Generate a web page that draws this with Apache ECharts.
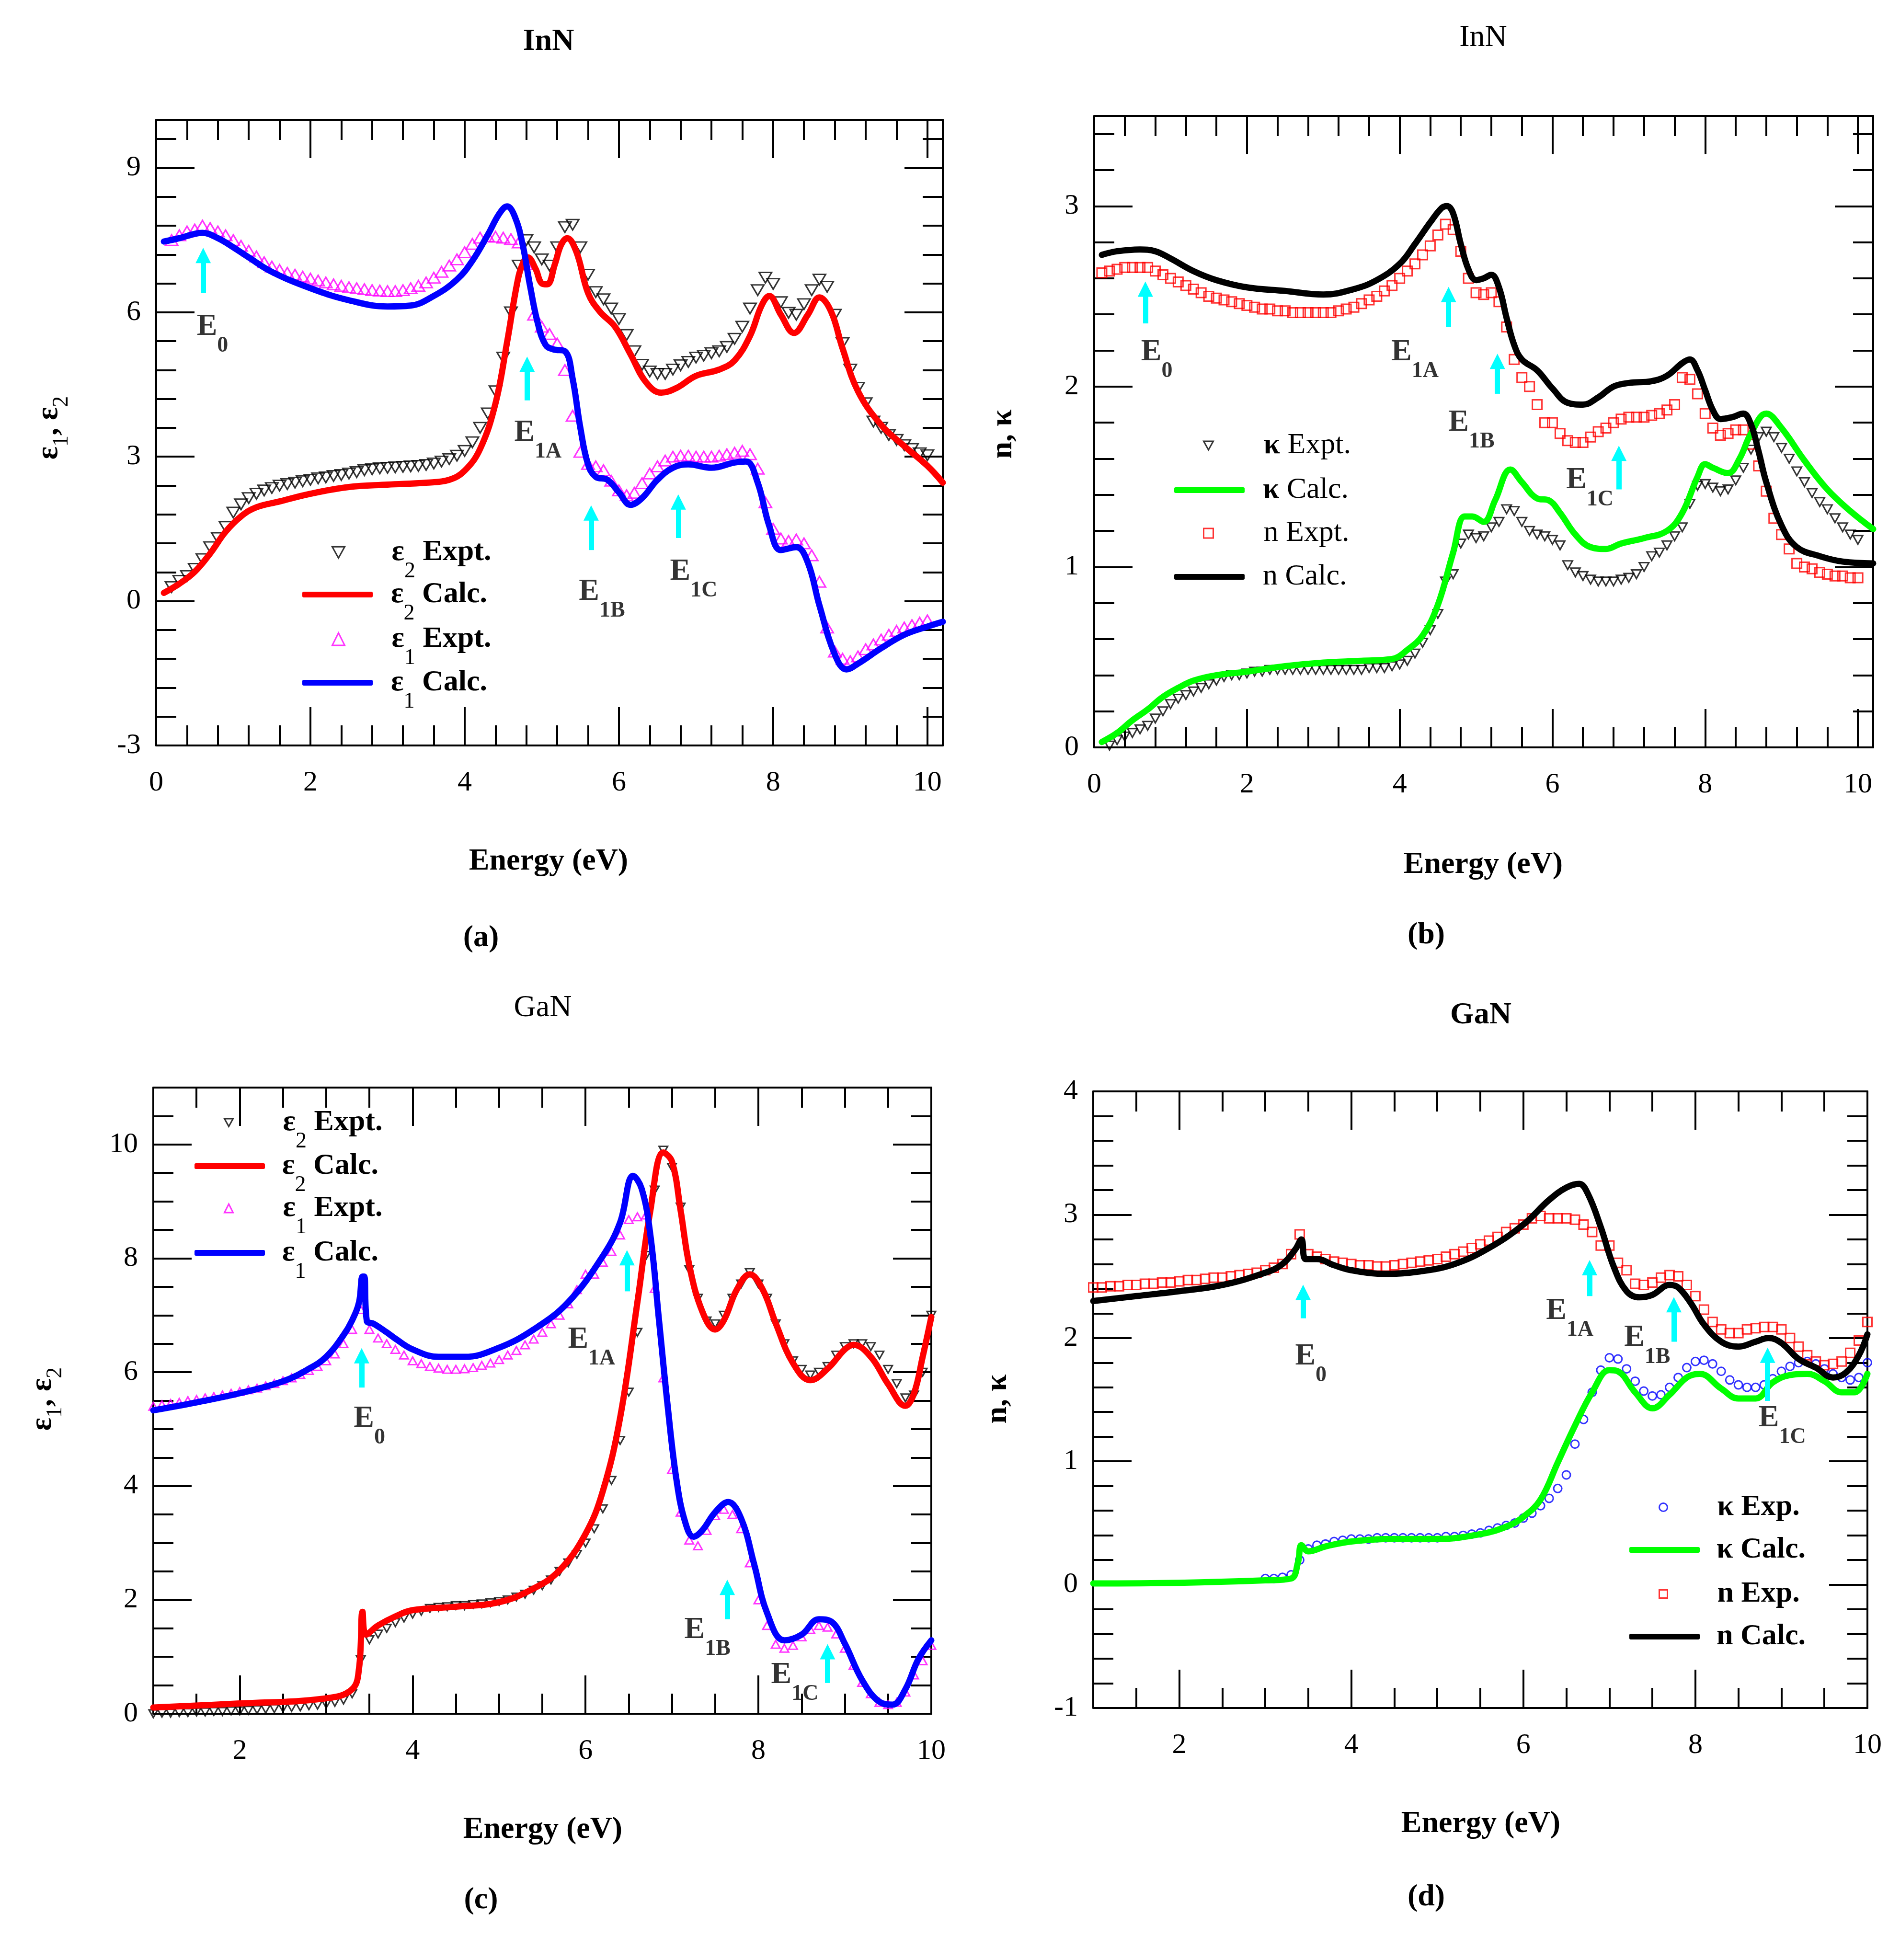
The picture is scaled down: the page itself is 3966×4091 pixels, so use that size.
<!DOCTYPE html>
<html><head><meta charset="utf-8">
<script src="https://cdn.jsdelivr.net/npm/echarts@6/dist/echarts.min.js"></script>
<style>html,body{margin:0;padding:0;background:#fff}#c{width:3966px;height:4091px}</style>
</head><body><div id="c"></div>
<script>
const FONT = 'Liberation Serif';

// ---------- tick values ----------
const aXMajor = [0,2,4,6,8,10];
const aXMinor = [0.4,0.8,1.2,1.6,2.4,2.8,3.2,3.6,4.4,4.8,5.2,5.6,6.4,6.8,7.2,7.6,8.4,8.8,9.2,9.6];
const aYMajor = [-3,0,3,6,9];
const aYMinor = [-2.4,-1.8,-1.2,-0.6,0.6,1.2,1.8,2.4,3.6,4.2,4.8,5.4,6.6,7.2,7.8,8.4,9.6];
const bYMajor = [0,1,2,3];
const bYMinor = [0.2,0.4,0.6,0.8,1.2,1.4,1.6,1.8,2.2,2.4,2.6,2.8,3.2,3.4];
const cXMajor = [2,4,6,8,10];
const cXMinor = [1.5,2.5,3,3.5,4.5,5,5.5,6.5,7,7.5,8.5,9,9.5];
const cYMajor = [0,2,4,6,8,10];
const cYMinor = [0.5,1,1.5,2.5,3,3.5,4.5,5,5.5,6.5,7,7.5,8.5,9,9.5,10.5];
const dYMajor = [-1,0,1,2,3,4];
const dYMinor = [-0.8,-0.6,-0.4,-0.2,0.2,0.4,0.6,0.8,1.2,1.4,1.6,1.8,2.2,2.4,2.6,2.8,3.2,3.4,3.6,3.8];

// ---------- (a) InN dielectric function ----------
const aE2Exp = [[0.2,0.29],[0.3,0.42],[0.4,0.52],[0.5,0.67],[0.6,0.87],[0.7,1.12],[0.8,1.31],[0.9,1.54],[1.0,1.84],[1.1,2.01],[1.2,2.14],[1.3,2.23],[1.4,2.3],[1.5,2.35],[1.6,2.4],[1.7,2.43],[1.8,2.46],[1.9,2.49],[2.0,2.52],[2.1,2.55],[2.2,2.57],[2.3,2.6],[2.4,2.62],[2.5,2.65],[2.6,2.68],[2.7,2.72],[2.8,2.74],[2.9,2.76],[3.0,2.77],[3.1,2.78],[3.2,2.79],[3.3,2.8],[3.4,2.81],[3.5,2.83],[3.6,2.86],[3.7,2.9],[3.8,2.95],[3.9,3.02],[4.0,3.12],[4.1,3.3],[4.2,3.6],[4.3,3.9],[4.4,4.36],[4.5,5.06],[4.6,6.0],[4.7,6.97],[4.8,7.5],[4.9,7.35],[5.0,7.1],[5.1,6.97],[5.2,7.35],[5.3,7.77],[5.4,7.82],[5.5,7.35],[5.6,6.78],[5.7,6.42],[5.8,6.27],[5.9,6.08],[6.0,5.86],[6.1,5.53],[6.2,5.19],[6.3,4.91],[6.4,4.77],[6.5,4.72],[6.6,4.72],[6.7,4.81],[6.8,4.9],[6.9,4.97],[7.0,5.06],[7.1,5.1],[7.2,5.15],[7.3,5.19],[7.4,5.28],[7.5,5.45],[7.6,5.7],[7.7,6.08],[7.8,6.46],[7.9,6.72],[8.0,6.59],[8.1,6.21],[8.2,5.99],[8.3,5.95],[8.4,6.17],[8.5,6.46],[8.6,6.68],[8.7,6.53],[8.8,5.95],[8.9,5.36],[9.0,4.81],[9.1,4.43],[9.2,4.11],[9.3,3.73],[9.4,3.6],[9.5,3.45],[9.6,3.35],[9.7,3.24],[9.8,3.16],[9.9,3.07],[10.0,3.03]];
const aE2Calc = [[0.1,0.17],[0.3,0.36],[0.5,0.61],[0.7,0.99],[0.9,1.44],[1.1,1.76],[1.3,1.95],[1.6,2.07],[2.0,2.23],[2.5,2.37],[3.0,2.42],[3.5,2.46],[3.8,2.52],[4.0,2.71],[4.2,3.16],[4.4,4.11],[4.55,5.38],[4.68,6.6],[4.75,7.0],[4.82,7.14],[4.92,6.9],[5.0,6.6],[5.07,6.58],[5.17,7.0],[5.25,7.4],[5.33,7.54],[5.45,7.25],[5.6,6.4],[5.75,6.02],[5.95,5.7],[6.15,5.13],[6.35,4.55],[6.55,4.33],[6.75,4.43],[7.0,4.68],[7.3,4.81],[7.5,5.0],[7.7,5.51],[7.85,6.14],[7.95,6.34],[8.1,5.95],[8.27,5.57],[8.45,5.95],[8.6,6.31],[8.75,6.02],[8.9,5.25],[9.1,4.36],[9.4,3.66],[9.7,3.22],[10.0,2.81],[10.2,2.46]];
const aE1Exp = [[0.2,7.5],[0.3,7.6],[0.4,7.68],[0.5,7.72],[0.6,7.8],[0.7,7.75],[0.8,7.68],[0.9,7.6],[1.0,7.5],[1.1,7.38],[1.2,7.28],[1.3,7.16],[1.4,7.04],[1.5,6.95],[1.6,6.88],[1.7,6.82],[1.8,6.78],[1.9,6.74],[2.0,6.7],[2.1,6.66],[2.2,6.62],[2.3,6.58],[2.4,6.55],[2.5,6.52],[2.6,6.5],[2.7,6.48],[2.8,6.46],[2.9,6.45],[3.0,6.44],[3.1,6.44],[3.2,6.46],[3.3,6.5],[3.4,6.55],[3.5,6.62],[3.6,6.72],[3.7,6.84],[3.8,6.97],[3.9,7.1],[4.0,7.25],[4.1,7.42],[4.2,7.55],[4.3,7.58],[4.4,7.57],[4.5,7.55],[4.6,7.52],[4.7,7.45],[4.8,7.0],[4.9,5.95],[5.0,5.7],[5.1,5.55],[5.2,5.35],[5.3,4.8],[5.4,3.85],[5.5,3.1],[5.6,2.85],[5.7,2.8],[5.8,2.72],[5.9,2.5],[6.0,2.3],[6.1,2.2],[6.2,2.25],[6.3,2.45],[6.4,2.65],[6.5,2.8],[6.6,2.92],[6.7,3.0],[6.8,3.02],[6.9,3.02],[7.0,3.0],[7.1,3.0],[7.2,3.0],[7.3,3.02],[7.4,3.05],[7.5,3.08],[7.6,3.12],[7.7,3.05],[7.8,2.75],[7.9,2.05],[8.0,1.5],[8.1,1.3],[8.2,1.25],[8.3,1.28],[8.4,1.2],[8.5,0.95],[8.6,0.4],[8.7,-0.55],[8.8,-1.05],[8.9,-1.2],[9.0,-1.25],[9.1,-1.15],[9.2,-1.0],[9.3,-0.9],[9.4,-0.8],[9.5,-0.7],[9.6,-0.62],[9.7,-0.55],[9.8,-0.5],[9.9,-0.45],[10.0,-0.4]];
const aE1Calc = [[0.1,7.47],[0.3,7.54],[0.5,7.63],[0.6,7.65],[0.8,7.54],[1.0,7.35],[1.2,7.14],[1.5,6.84],[2.0,6.5],[2.5,6.25],[3.0,6.12],[3.3,6.14],[3.6,6.34],[3.9,6.68],[4.1,7.07],[4.3,7.61],[4.45,8.05],[4.55,8.2],[4.65,7.99],[4.75,7.42],[4.85,6.53],[4.95,5.76],[5.05,5.32],[5.15,5.23],[5.3,5.19],[5.4,4.62],[5.5,3.6],[5.6,2.84],[5.7,2.58],[5.85,2.52],[6.0,2.26],[6.15,2.0],[6.3,2.14],[6.5,2.52],[6.7,2.77],[6.9,2.84],[7.2,2.77],[7.5,2.88],[7.65,2.9],[7.8,2.46],[7.95,1.56],[8.1,1.06],[8.3,1.12],[8.45,0.8],[8.6,-0.09],[8.8,-1.11],[8.95,-1.42],[9.1,-1.3],[9.4,-0.98],[9.7,-0.7],[10.0,-0.53],[10.2,-0.43]];
// arrows: [energy, tail, head]; labels: [energy, value, key]
const aArrows = [[0.61,6.4,7.18],[4.81,4.17,4.92],[5.64,1.06,1.83],[6.77,1.31,2.06]];
const aLabels = [[0.73,5.7,'E0'],[4.95,3.5,'E1A'],[5.78,0.19,'E1B'],[6.97,0.61,'E1C']];

// ---------- (b) InN n, k ----------
const bKExp = [[0.2,0.01],[0.3,0.04],[0.4,0.06],[0.5,0.08],[0.6,0.1],[0.7,0.12],[0.8,0.16],[0.9,0.2],[1.0,0.24],[1.1,0.27],[1.2,0.29],[1.3,0.31],[1.4,0.33],[1.5,0.35],[1.6,0.37],[1.7,0.39],[1.8,0.4],[1.9,0.4],[2.0,0.41],[2.1,0.42],[2.2,0.42],[2.3,0.43],[2.4,0.43],[2.5,0.43],[2.6,0.43],[2.7,0.43],[2.8,0.43],[2.9,0.43],[3.0,0.43],[3.1,0.43],[3.2,0.43],[3.3,0.43],[3.4,0.43],[3.5,0.43],[3.6,0.44],[3.7,0.44],[3.8,0.44],[3.9,0.45],[4.0,0.46],[4.1,0.48],[4.2,0.52],[4.3,0.58],[4.4,0.65],[4.5,0.74],[4.6,0.92],[4.7,0.96],[4.8,1.13],[4.9,1.18],[5.0,1.16],[5.1,1.17],[5.2,1.22],[5.3,1.25],[5.4,1.32],[5.5,1.31],[5.6,1.25],[5.7,1.2],[5.8,1.18],[5.9,1.17],[6.0,1.15],[6.1,1.12],[6.2,1.01],[6.3,0.97],[6.4,0.95],[6.5,0.93],[6.6,0.92],[6.7,0.92],[6.8,0.92],[6.9,0.93],[7.0,0.94],[7.1,0.96],[7.2,1.0],[7.3,1.06],[7.4,1.08],[7.5,1.12],[7.6,1.17],[7.7,1.22],[7.8,1.35],[7.9,1.45],[8.0,1.46],[8.1,1.44],[8.2,1.42],[8.3,1.43],[8.4,1.48],[8.5,1.55],[8.6,1.65],[8.7,1.72],[8.8,1.75],[8.9,1.72],[9.0,1.66],[9.1,1.6],[9.2,1.53],[9.3,1.47],[9.4,1.41],[9.5,1.36],[9.6,1.32],[9.7,1.27],[9.8,1.22],[9.9,1.18],[10.0,1.15]];
const bKCalc = [[0.1,0.03],[0.3,0.08],[0.5,0.15],[0.7,0.21],[0.9,0.28],[1.1,0.33],[1.3,0.37],[1.6,0.4],[2.0,0.42],[2.5,0.45],[3.0,0.47],[3.5,0.48],[3.9,0.49],[4.1,0.54],[4.3,0.62],[4.5,0.79],[4.7,1.08],[4.85,1.28],[4.95,1.28],[5.1,1.25],[5.25,1.37],[5.45,1.54],[5.6,1.47],[5.8,1.38],[5.95,1.37],[6.1,1.3],[6.3,1.18],[6.5,1.11],[6.7,1.1],[6.9,1.13],[7.2,1.16],[7.5,1.2],[7.7,1.3],[7.9,1.5],[8.0,1.57],[8.1,1.55],[8.3,1.52],[8.45,1.6],[8.6,1.74],[8.8,1.85],[9.0,1.77],[9.3,1.59],[9.6,1.43],[9.9,1.31],[10.2,1.21]];
const bNExp = [[0.1,2.63],[0.2,2.64],[0.3,2.65],[0.4,2.66],[0.5,2.66],[0.6,2.66],[0.7,2.66],[0.8,2.64],[0.9,2.62],[1.0,2.6],[1.1,2.58],[1.2,2.56],[1.3,2.54],[1.4,2.52],[1.5,2.5],[1.6,2.49],[1.7,2.48],[1.8,2.47],[1.9,2.46],[2.0,2.45],[2.1,2.44],[2.2,2.43],[2.3,2.43],[2.4,2.42],[2.5,2.42],[2.6,2.41],[2.7,2.41],[2.8,2.41],[2.9,2.41],[3.0,2.41],[3.1,2.41],[3.2,2.42],[3.3,2.43],[3.4,2.44],[3.5,2.46],[3.6,2.48],[3.7,2.5],[3.8,2.53],[3.9,2.56],[4.0,2.6],[4.1,2.64],[4.2,2.68],[4.3,2.73],[4.4,2.78],[4.5,2.84],[4.6,2.9],[4.7,2.87],[4.8,2.75],[4.9,2.6],[5.0,2.52],[5.1,2.51],[5.2,2.52],[5.3,2.47],[5.4,2.33],[5.5,2.15],[5.6,2.05],[5.7,2.0],[5.8,1.9],[5.9,1.8],[6.0,1.8],[6.1,1.74],[6.2,1.7],[6.3,1.69],[6.4,1.69],[6.5,1.72],[6.6,1.75],[6.7,1.77],[6.8,1.8],[6.9,1.82],[7.0,1.83],[7.1,1.83],[7.2,1.83],[7.3,1.84],[7.4,1.85],[7.5,1.87],[7.6,1.9],[7.7,2.05],[7.8,2.04],[7.9,1.96],[8.0,1.85],[8.1,1.77],[8.2,1.73],[8.3,1.74],[8.4,1.76],[8.5,1.76],[8.6,1.68],[8.7,1.56],[8.8,1.42],[8.9,1.27],[9.0,1.18],[9.1,1.1],[9.2,1.02],[9.3,1.0],[9.4,0.99],[9.5,0.97],[9.6,0.96],[9.7,0.95],[9.8,0.95],[9.9,0.94],[10.0,0.94]];
const bNCalc = [[0.1,2.73],[0.3,2.75],[0.6,2.76],[0.8,2.75],[1.0,2.71],[1.3,2.64],[1.6,2.59],[2.0,2.55],[2.5,2.53],[3.0,2.51],[3.4,2.54],[3.7,2.59],[4.0,2.68],[4.2,2.79],[4.4,2.91],[4.55,2.99],[4.62,3.0],[4.7,2.96],[4.8,2.79],[4.9,2.65],[5.0,2.59],[5.1,2.6],[5.2,2.62],[5.3,2.55],[5.4,2.38],[5.5,2.23],[5.6,2.15],[5.8,2.09],[6.0,1.99],[6.2,1.91],[6.4,1.9],[6.6,1.94],[6.8,2.0],[7.0,2.02],[7.3,2.03],[7.5,2.06],[7.7,2.13],[7.8,2.15],[7.9,2.09],[8.0,1.98],[8.1,1.87],[8.2,1.82],[8.35,1.83],[8.5,1.85],[8.6,1.79],[8.7,1.64],[8.8,1.47],[9.0,1.23],[9.2,1.11],[9.5,1.06],[9.8,1.03],[10.2,1.02]];
const bArrows = [[0.67,2.35,2.54],[4.64,2.33,2.51],[5.28,1.96,2.14],[6.87,1.43,1.63]];
const bLabels = [[0.82,2.19,'E0'],[4.2,2.19,'E1A'],[4.94,1.8,'E1B'],[6.49,1.48,'E1C']];

// ---------- (c) GaN dielectric function ----------
const cE2Exp = [[1.0,0.0],[1.1,0.01],[1.2,0.01],[1.3,0.02],[1.4,0.02],[1.5,0.03],[1.6,0.03],[1.7,0.04],[1.8,0.04],[1.9,0.05],[2.0,0.05],[2.1,0.06],[2.2,0.07],[2.3,0.08],[2.4,0.09],[2.5,0.1],[2.6,0.11],[2.7,0.12],[2.8,0.14],[2.9,0.15],[3.0,0.17],[3.1,0.2],[3.2,0.24],[3.3,0.35],[3.4,0.95],[3.5,1.3],[3.6,1.4],[3.7,1.5],[3.8,1.6],[3.9,1.68],[4.0,1.75],[4.1,1.8],[4.2,1.85],[4.3,1.87],[4.4,1.88],[4.5,1.9],[4.6,1.9],[4.7,1.92],[4.8,1.93],[4.9,1.95],[5.0,1.97],[5.1,2.0],[5.2,2.05],[5.3,2.1],[5.4,2.17],[5.5,2.25],[5.6,2.35],[5.7,2.5],[5.8,2.65],[5.9,2.8],[6.0,3.0],[6.1,3.25],[6.2,3.6],[6.3,4.1],[6.4,4.8],[6.5,5.65],[6.6,6.7],[6.7,8.05],[6.8,9.2],[6.9,9.9],[7.0,9.6],[7.1,8.9],[7.2,7.8],[7.3,7.3],[7.4,6.9],[7.5,6.85],[7.6,7.0],[7.7,7.3],[7.8,7.55],[7.9,7.75],[8.0,7.55],[8.1,7.3],[8.2,6.85],[8.3,6.5],[8.4,6.2],[8.5,6.05],[8.6,5.95],[8.7,6.0],[8.8,6.1],[8.9,6.3],[9.0,6.45],[9.1,6.5],[9.2,6.5],[9.3,6.45],[9.4,6.3],[9.5,6.05],[9.6,5.8],[9.7,5.55],[9.8,5.6],[9.9,6.0],[10.0,7.0]];
const cE2Calc = [[1.0,0.11],[2.0,0.18],[3.0,0.27],[3.3,0.43],[3.38,0.8],[3.42,1.79],[3.46,1.39],[3.6,1.55],[3.8,1.71],[4.0,1.82],[4.5,1.88],[5.0,1.96],[5.4,2.2],[5.7,2.52],[6.0,3.16],[6.2,3.91],[6.4,5.2],[6.6,7.23],[6.75,8.84],[6.9,9.86],[7.0,9.7],[7.1,8.84],[7.2,7.88],[7.35,7.07],[7.5,6.75],[7.6,6.91],[7.75,7.45],[7.9,7.72],[8.05,7.45],[8.2,6.86],[8.4,6.16],[8.6,5.86],[8.8,6.06],[9.0,6.4],[9.1,6.48],[9.3,6.27],[9.5,5.79],[9.7,5.41],[9.8,5.63],[9.9,6.27],[10.0,6.97]];
const cE1Exp = [[1.0,5.4],[1.1,5.43],[1.2,5.45],[1.3,5.47],[1.4,5.5],[1.5,5.52],[1.6,5.55],[1.7,5.57],[1.8,5.6],[1.9,5.63],[2.0,5.66],[2.1,5.69],[2.2,5.72],[2.3,5.76],[2.4,5.8],[2.5,5.85],[2.6,5.9],[2.7,5.96],[2.8,6.03],[2.9,6.1],[3.0,6.2],[3.1,6.32],[3.2,6.5],[3.3,6.75],[3.4,7.1],[3.5,6.75],[3.6,6.6],[3.7,6.5],[3.8,6.4],[3.9,6.3],[4.0,6.2],[4.1,6.15],[4.2,6.1],[4.3,6.07],[4.4,6.05],[4.5,6.05],[4.6,6.06],[4.7,6.08],[4.8,6.12],[4.9,6.16],[5.0,6.22],[5.1,6.3],[5.2,6.38],[5.3,6.48],[5.4,6.58],[5.5,6.7],[5.6,6.85],[5.7,7.0],[5.8,7.2],[5.9,7.45],[6.0,7.72],[6.1,7.72],[6.2,7.93],[6.3,8.12],[6.4,8.41],[6.5,8.68],[6.6,8.73],[6.7,8.76],[6.8,7.47],[6.9,5.9],[7.0,4.29],[7.1,3.54],[7.2,3.05],[7.3,2.95],[7.4,3.22],[7.5,3.48],[7.6,3.59],[7.7,3.5],[7.8,3.25],[7.9,2.65],[8.0,2.0],[8.1,1.55],[8.2,1.22],[8.3,1.15],[8.4,1.2],[8.5,1.35],[8.6,1.48],[8.7,1.55],[8.8,1.52],[8.9,1.4],[9.0,1.15],[9.1,0.85],[9.2,0.55],[9.3,0.35],[9.4,0.2],[9.5,0.16],[9.6,0.2],[9.7,0.38],[9.8,0.68],[9.9,0.93],[10.0,1.2]];
const cE1Calc = [[1.0,5.33],[1.5,5.47],[2.0,5.63],[2.5,5.84],[2.8,6.06],[3.0,6.27],[3.2,6.65],[3.3,6.91],[3.38,7.23],[3.42,7.68],[3.44,7.68],[3.47,6.9],[3.55,6.85],[3.7,6.7],[3.8,6.59],[4.0,6.4],[4.3,6.27],[4.6,6.27],[5.0,6.43],[5.4,6.75],[5.8,7.23],[6.2,8.04],[6.4,8.63],[6.55,9.45],[6.65,9.22],[6.75,8.41],[6.85,6.91],[6.95,5.41],[7.05,4.13],[7.15,3.38],[7.25,3.11],[7.35,3.22],[7.5,3.54],[7.65,3.72],[7.8,3.43],[7.95,2.63],[8.1,1.77],[8.3,1.29],[8.5,1.39],[8.7,1.66],[8.85,1.61],[9.0,1.23],[9.2,0.59],[9.4,0.21],[9.55,0.16],[9.7,0.43],[9.85,0.96],[10.0,1.29]];
const cArrows = [[3.41,5.73,6.29],[6.48,7.42,8.01],[7.64,1.66,2.22],[8.8,0.54,1.09]];
const cLabels = [[3.5,5.18,'E0'],[6.07,6.57,'E1A'],[7.41,1.47,'E1B'],[8.42,0.68,'E1C']];

// ---------- (d) GaN n, k ----------
const dKExp = [[3.0,0.05],[3.1,0.05],[3.2,0.06],[3.3,0.08],[3.4,0.2],[3.5,0.29],[3.6,0.32],[3.7,0.33],[3.8,0.35],[3.9,0.36],[4.0,0.37],[4.1,0.37],[4.2,0.37],[4.3,0.38],[4.4,0.38],[4.5,0.38],[4.6,0.38],[4.7,0.38],[4.8,0.38],[4.9,0.38],[5.0,0.38],[5.1,0.39],[5.2,0.39],[5.3,0.4],[5.4,0.41],[5.5,0.42],[5.6,0.44],[5.7,0.46],[5.8,0.48],[5.9,0.5],[6.0,0.54],[6.1,0.58],[6.2,0.64],[6.3,0.7],[6.4,0.78],[6.5,0.89],[6.6,1.14],[6.7,1.34],[6.8,1.56],[6.9,1.74],[7.0,1.84],[7.1,1.83],[7.2,1.75],[7.3,1.65],[7.4,1.57],[7.5,1.53],[7.6,1.54],[7.7,1.6],[7.8,1.68],[7.9,1.76],[8.0,1.81],[8.1,1.82],[8.2,1.79],[8.3,1.73],[8.4,1.66],[8.5,1.62],[8.6,1.6],[8.7,1.6],[8.8,1.62],[8.9,1.67],[9.0,1.73],[9.1,1.77],[9.2,1.8],[9.3,1.81],[9.4,1.79],[9.5,1.75],[9.6,1.71],[9.7,1.68],[9.8,1.66],[9.9,1.68],[10.0,1.8]];
const dKCalc = [[1.0,0.01],[2.0,0.015],[3.0,0.035],[3.3,0.05],[3.38,0.18],[3.42,0.32],[3.5,0.27],[3.7,0.31],[4.0,0.35],[4.5,0.37],[5.0,0.37],[5.5,0.41],[5.8,0.47],[6.0,0.55],[6.2,0.69],[6.4,0.99],[6.6,1.29],[6.8,1.56],[7.0,1.74],[7.1,1.73],[7.3,1.56],[7.5,1.43],[7.7,1.54],[7.9,1.68],[8.05,1.71],[8.3,1.59],[8.5,1.51],[8.7,1.51],[8.9,1.64],[9.1,1.7],[9.3,1.71],[9.5,1.65],[9.7,1.56],[9.85,1.56],[10.0,1.71]];
const dNExp = [[1.0,2.41],[1.1,2.41],[1.2,2.42],[1.3,2.42],[1.4,2.43],[1.5,2.43],[1.6,2.44],[1.7,2.44],[1.8,2.45],[1.9,2.45],[2.0,2.46],[2.1,2.47],[2.2,2.47],[2.3,2.48],[2.4,2.49],[2.5,2.49],[2.6,2.5],[2.7,2.51],[2.8,2.52],[2.9,2.53],[3.0,2.55],[3.1,2.57],[3.2,2.6],[3.3,2.68],[3.4,2.84],[3.5,2.68],[3.6,2.66],[3.7,2.64],[3.8,2.62],[3.9,2.61],[4.0,2.6],[4.1,2.59],[4.2,2.59],[4.3,2.58],[4.4,2.58],[4.5,2.59],[4.6,2.6],[4.7,2.61],[4.8,2.62],[4.9,2.63],[5.0,2.64],[5.1,2.66],[5.2,2.68],[5.3,2.7],[5.4,2.73],[5.5,2.76],[5.6,2.79],[5.7,2.82],[5.8,2.86],[5.9,2.89],[6.0,2.92],[6.1,2.97],[6.2,2.99],[6.3,2.97],[6.4,2.97],[6.5,2.97],[6.6,2.96],[6.7,2.92],[6.8,2.86],[6.9,2.75],[7.0,2.75],[7.1,2.61],[7.2,2.55],[7.3,2.44],[7.4,2.43],[7.5,2.45],[7.6,2.49],[7.7,2.51],[7.8,2.5],[7.9,2.43],[8.0,2.34],[8.1,2.23],[8.2,2.13],[8.3,2.07],[8.4,2.04],[8.5,2.04],[8.6,2.07],[8.7,2.08],[8.8,2.09],[8.9,2.09],[9.0,2.07],[9.1,2.0],[9.2,1.93],[9.3,1.86],[9.4,1.81],[9.5,1.78],[9.6,1.79],[9.7,1.81],[9.8,1.88],[9.9,1.98],[10.0,2.13]];
const dNCalc = [[1.0,2.3],[1.5,2.34],[2.0,2.38],[2.5,2.43],[3.0,2.53],[3.2,2.6],[3.35,2.72],[3.42,2.8],[3.47,2.64],[3.6,2.64],[3.8,2.59],[4.0,2.55],[4.4,2.52],[4.8,2.54],[5.2,2.6],[5.6,2.73],[6.0,2.92],[6.3,3.12],[6.5,3.22],[6.65,3.25],[6.75,3.17],[6.9,2.9],[7.05,2.58],[7.2,2.38],[7.35,2.33],[7.5,2.35],[7.7,2.43],[7.8,2.41],[7.95,2.28],[8.1,2.11],[8.3,1.97],[8.5,1.93],[8.7,1.97],[8.85,2.0],[9.0,1.96],[9.2,1.83],[9.4,1.76],[9.6,1.68],[9.75,1.72],[9.9,1.86],[10.0,2.03]];
const dArrows = [[3.44,2.16,2.37],[6.77,2.34,2.57],[7.75,1.97,2.27],[8.84,1.49,1.86]];
const dLabels = [[3.53,1.85,'E0'],[6.54,2.22,'E1A'],[7.44,2.0,'E1B'],[9.01,1.35,'E1C']];

// ---------- text ----------
const LABEL_RICH = {'E0':'{m|E}{s|0}','E1A':'{m|E}{s|1A}','E1B':'{m|E}{s|1B}','E1C':'{m|E}{s|1C}'};
const LEGEND_TEXT = {
  a_e2x:'{g| }{b|ε}{s|2}{m| Expt.}', a_e2c:'{h| }{b|ε}{s|2}{m| Calc.}', a_e1x:'{g| }{b|ε}{s|1}{m| Expt.}', a_e1c:'{h| }{b|ε}{s|1}{m| Calc.}',
  b_kx:'{g| }{b|κ}{m| Expt.}', b_kc:'{h| }{b|κ}{m| Calc.}', b_nx:'{g| }{m|n Expt.}', b_nc:'{h| }{m|n Calc.}',
  c_e2x:'{g| }{b|ε}{s|2}{m| Expt.}', c_e2c:'{h| }{b|ε}{s|2}{m| Calc.}', c_e1x:'{g| }{b|ε}{s|1}{m| Expt.}', c_e1c:'{h| }{b|ε}{s|1}{m| Calc.}',
  d_kx:'{g| }{b|κ Exp.}', d_kc:'{h| }{b|κ Calc.}', d_nx:'{g| }{b|n Exp.}', d_nc:'{h| }{b|n Calc.}'
};
const DOWN_TRIANGLE = 'path://M0,0L10,0L5,9Z';

// ---------- layout ----------
const GRIDS = [
  {left:326, top:250, width:1642, height:1306},
  {left:2284, top:242, width:1626, height:1318},
  {left:320, top:2270, width:1624, height:1307},
  {left:2282, top:2278, width:1616, height:1287}
];
const RANGES = [
  {x:[0,10.2], y:[-3,10], xM:aXMajor, xm:aXMinor, yM:aYMajor, ym:aYMinor},
  {x:[0,10.2], y:[0,3.5], xM:aXMajor, xm:aXMinor, yM:bYMajor, ym:bYMinor},
  {x:[1,10], y:[0,11], xM:cXMajor, xm:cXMinor, yM:cYMajor, ym:cYMinor},
  {x:[1,10], y:[-1,4], xM:cXMajor, xm:cXMinor, yM:dYMajor, ym:dYMinor}
];

const grids = GRIDS.concat(GRIDS).map(g => Object.assign({containLabel:false}, g));
const xAxes = [], yAxes = [];
function ax(gridIndex, range, vals, pos, label, len, isX, showLine) {
  return {
    type:'value', gridIndex, min:range[0], max:range[1], position:pos,
    axisLine:{show:showLine, onZero:false, lineStyle:{color:'#000', width:4}},
    axisTick:{show:true, inside:true, length:len, customValues:vals, lineStyle:{color:'#000', width:4}},
    axisLabel:{show:label, customValues:vals, margin: isX ? 48 : 32, color:'#000', fontFamily:FONT, fontSize:60,
      formatter: v => String(v)},
    splitLine:{show:false}, minorTick:{show:false}, minorSplitLine:{show:false}
  };
}
for (let i = 0; i < 4; i++) {
  const r = RANGES[i];
  xAxes.push(ax(i, r.x, r.xM, 'bottom', true, 80, true, true));
  xAxes.push(ax(i, r.x, r.xM, 'top', false, 80, true, true));
  yAxes.push(ax(i, r.y, r.yM, 'left', true, 80, false, true));
  yAxes.push(ax(i, r.y, r.yM, 'right', false, 80, false, true));
}
for (let i = 0; i < 4; i++) {
  const r = RANGES[i];
  xAxes.push(ax(4+i, r.x, r.xm, 'bottom', false, 42, true, false));
  xAxes.push(ax(4+i, r.x, r.xm, 'top', false, 42, true, false));
  yAxes.push(ax(4+i, r.y, r.ym, 'left', false, 42, false, false));
  yAxes.push(ax(4+i, r.y, r.ym, 'right', false, 42, false, false));
}

function expS(name, p, data, symbol, rotate, size, color) {
  return {type:'scatter', name, xAxisIndex:2*p, yAxisIndex:2*p, data, symbol, symbolRotate:rotate, symbolSize:size,
    itemStyle:{color:'rgba(255,255,255,0)', borderColor:color, borderWidth:3}, silent:true, z:2};
}
function calcS(name, p, data, color) {
  return {type:'line', name, xAxisIndex:2*p, yAxisIndex:2*p, data, showSymbol:false, symbol:'none', smooth:0.4,
    lineStyle:{color, width:13, cap:'round', join:'round'}, itemStyle:{color}, silent:true, z:3};
}
const SUBRICH = {
  m:{fontFamily:FONT, fontSize:64, fontWeight:'bold', color:'#000', lineHeight:64},
  s:{fontFamily:FONT, fontSize:46, fontWeight:'bold', color:'#000', lineHeight:126, verticalAlign:'bottom'}
};
function annotS(p, labels, arrows) {
  return {type:'scatter', name:'annot'+p, xAxisIndex:2*p, yAxisIndex:2*p, data:labels, symbol:'circle', symbolSize:1,
    itemStyle:{color:'rgba(0,0,0,0)'}, silent:true, z:5,
    label:{show:true, position:'inside', formatter: q => LABEL_RICH[q.data[2]], rich:SUBRICH},
    markLine:{silent:true, animation:false, symbol:['none','triangle'], symbolSize:32,
      lineStyle:{color:'#00ffff', width:11, type:'solid'}, label:{show:false}, emphasis:{disabled:true},
      data: arrows.map(a => [{coord:[a[0],a[1]]},{coord:[a[0],a[2]]}])}
  };
}

const series = [
  expS('a_e2x',0,aE2Exp,'triangle',180,[26,22],'#000000'),
  expS('a_e1x',0,aE1Exp,'triangle',0,[26,22],'#ff00ff'),
  calcS('a_e2c',0,aE2Calc,'#ff0000'),
  calcS('a_e1c',0,aE1Calc,'#0000ff'),
  annotS(0,aLabels,aArrows),
  expS('b_kx',1,bKExp,'triangle',180,[20,18],'#000000'),
  expS('b_nx',1,bNExp,'rect',0,20,'#ff0000'),
  calcS('b_kc',1,bKCalc,'#00ff00'),
  calcS('b_nc',1,bNCalc,'#000000'),
  annotS(1,bLabels,bArrows),
  expS('c_e2x',2,cE2Exp,'triangle',180,[18,16],'#000000'),
  expS('c_e1x',2,cE1Exp,'triangle',0,[18,16],'#ff00ff'),
  calcS('c_e2c',2,cE2Calc,'#ff0000'),
  calcS('c_e1c',2,cE1Calc,'#0000ff'),
  annotS(2,cLabels,cArrows),
  expS('d_kx',3,dKExp,'circle',0,17,'#0000ff'),
  expS('d_nx',3,dNExp,'rect',0,19,'#ff0000'),
  calcS('d_kc',3,dKCalc,'#00ff00'),
  calcS('d_nc',3,dNCalc,'#000000'),
  annotS(3,dLabels,dArrows)
];

// legend: scatter rows (icon = marker) and line rows (icon = bar) as two interleaved legends
function legendRich(gW, hW, bold, sub) {
  const w = bold ? 'bold' : 'normal';
  return {
    g:{width:gW, lineHeight:10, fontSize:10},
    h:{width:hW, lineHeight:10, fontSize:10},
    b:{fontFamily:FONT, fontSize:62, fontWeight:'bold', color:'#000', lineHeight:64},
    m:{fontFamily:FONT, fontSize:62, fontWeight:w, color:'#000', lineHeight:64},
    s:{fontFamily:FONT, fontSize:46, fontWeight:'normal', color:'#000', lineHeight: sub ? 126 : 64, verticalAlign:'bottom'}
  };
}
function legendMarkers(items, left, top, gap, size, gW, bold, sub) {
  return {orient:'vertical', left, top, itemGap:gap, itemWidth:size, itemHeight:size, padding:0, selectedMode:false,
    data:items, formatter: n => LEGEND_TEXT[n], itemStyle:{borderWidth:3},
    textStyle:{fontFamily:FONT, fontSize:62, color:'#000', rich:legendRich(gW, 0, bold, sub)}};
}
function legendLines(names, left, top, gap, hW, bold, sub) {
  return {orient:'vertical', left, top, itemGap:gap, itemWidth:147, itemHeight:12, padding:0, selectedMode:false,
    icon:'roundRect', data:names, formatter: n => LEGEND_TEXT[n], itemStyle:{borderWidth:0},
    textStyle:{fontFamily:FONT, fontSize:62, color:'#000', rich:legendRich(0, hW, bold, sub)}};
}

function txt(x, y, text, bold, rot, rich) {
  const st = {text, x:0, y:0, fill:'#000', font:(bold?'bold ':'')+'64px "'+FONT+'"',
    align:'center', verticalAlign:'middle', textAlign:'center', textVerticalAlign:'middle'};
  if (rich) st.rich = rich;
  return {type:'text', x, y, rotation: rot || 0, style: st, silent:true};
}
const YRICH = {
  e:{fontFamily:FONT, fontSize:64, fontWeight:'bold', fill:'#000', color:'#000', lineHeight:64},
  s:{fontFamily:FONT, fontSize:46, fontWeight:'normal', fill:'#000', color:'#000', lineHeight:100, verticalAlign:'bottom'}
};

const option = {
  backgroundColor:'#ffffff',
  animation:false,
  textStyle:{fontFamily:FONT},
  grid: grids,
  xAxis: xAxes,
  yAxis: yAxes,
  legend: [
    legendMarkers([{name:'a_e2x', icon:DOWN_TRIANGLE}, 'a_e1x'], 692, 1122, 87, 26, 93, true, true),
    legendLines(['a_e2c','a_e1c'], 631, 1210, 90, 33, true, true),
    legendMarkers([{name:'b_kx', icon:DOWN_TRIANGLE}, 'b_nx'], 2511, 899, 121, 20, 100, false, false),
    legendLines(['b_kc','b_nc'], 2451, 992, 119, 33, false, false),
    legendMarkers([{name:'c_e2x', icon:DOWN_TRIANGLE}, 'c_e1x'], 467, 2312, 85, 18, 99, true, true),
    legendLines(['c_e2c','c_e1c'], 406, 2403, 87, 31, true, true),
    legendMarkers(['d_kx','d_nx'], 3462, 3115, 119, 17, 99, true, false),
    legendLines(['d_kc','d_nc'], 3401, 3204, 119, 30, true, false)
  ],
  graphic: [
    txt(1145, 87, 'InN', true), txt(3096, 79, 'InN', false), txt(1133, 2104, 'GaN', false), txt(3091, 2119, 'GaN', true),
    txt(1145, 1798, 'Energy (eV)', true), txt(3096, 1805, 'Energy (eV)', true), txt(1133, 3819, 'Energy (eV)', true), txt(3091, 3807, 'Energy (eV)', true),
    txt(1004, 1958, '(a)', true), txt(2977, 1952, '(b)', true), txt(1004, 3966, '(c)', true), txt(2977, 3960, '(d)', true),
    txt(102, 893, '{e|ε}{s|1}{e|, ε}{s|2}', true, Math.PI/2, YRICH),
    txt(2094, 906, 'n, κ', true, Math.PI/2),
    txt(89, 2920, '{e|ε}{s|1}{e|, ε}{s|2}', true, Math.PI/2, YRICH),
    txt(2083, 2920, 'n, κ', true, Math.PI/2)
  ],
  series
};
const chart = echarts.init(document.getElementById('c'), null, {renderer:'canvas'});
chart.setOption(option);
</script></body></html>
